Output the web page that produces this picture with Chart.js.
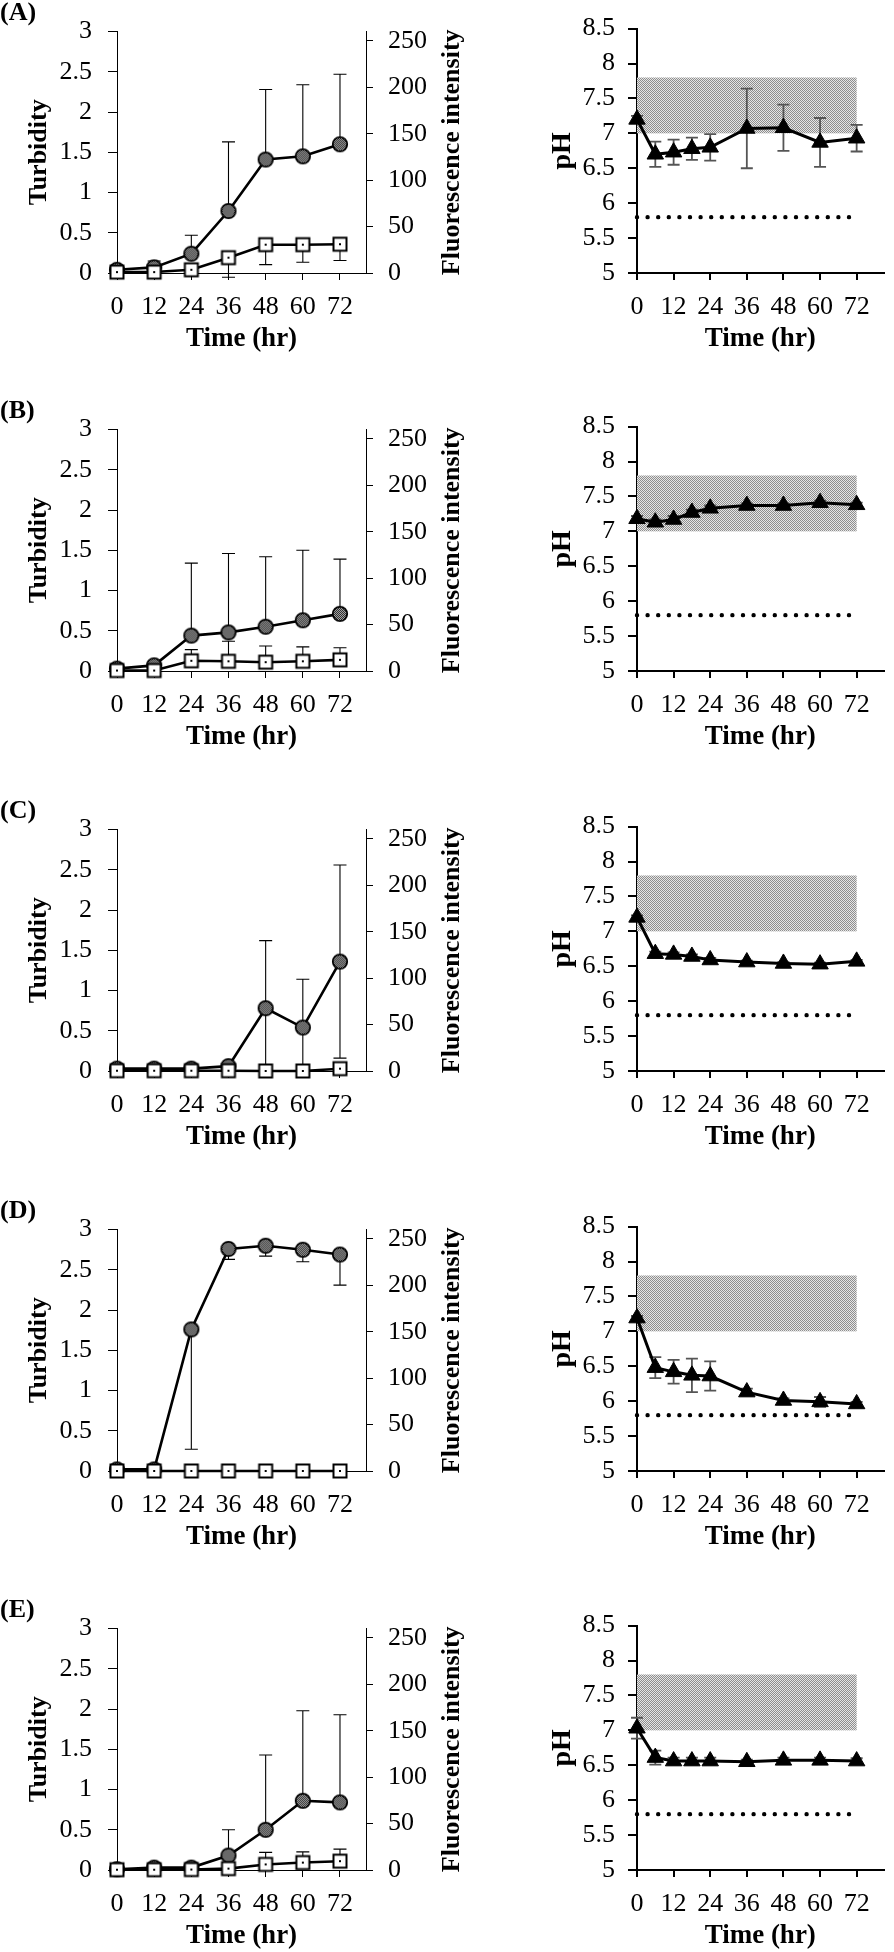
<!DOCTYPE html>
<html>
<head>
<meta charset="utf-8">
<script src="https://cdn.jsdelivr.net/npm/chart.js@4.4.0/dist/chart.umd.min.js"></script>
<style>
  body { margin: 0; background: #fff; width: 894px; height: 1952px; overflow: hidden; position: relative; }
  canvas { position: absolute; }
</style>
</head>
<body>
<script>
// time points
const hours = [0, 12, 24, 36, 48, 60, 72];
const phHours = [0, 6, 12, 18, 24, 36, 48, 60, 72];
const xTicks = [0, 12, 24, 36, 48, 60, 72];
const turbTicks = [0, 0.5, 1, 1.5, 2, 2.5, 3];
const fluoTicks = [0, 50, 100, 150, 200, 250];
const phTicks = [5, 5.5, 6, 6.5, 7, 7.5, 8, 8.5];

// (A)
const turbA = [0.04, 0.07, 0.24, 0.77, 1.41, 1.45, 1.60];
const turbA_up = [0.02, 0.08, 0.23, 0.86, 0.87, 0.89, 0.87];
const turbA_dn = [0, 0, 0, 0, 0, 0, 0];
const fluoA = [1, 1, 3.5, 16.5, 30.5, 30.5, 31];
const fluoA_up = [0, 0, 0, 0, 0, 0, 0];
const fluoA_dn = [0, 0, 0, 21, 21.5, 19, 17.5];
const phA = [7.20, 6.70, 6.73, 6.78, 6.80, 7.07, 7.08, 6.87, 6.93];
const phA_err = [0.05, 0.18, 0.18, 0.16, 0.19, 0.57, 0.33, 0.35, 0.19];

// (B)
const turbB = [0.03, 0.07, 0.44, 0.48, 0.55, 0.63, 0.71];
const turbB_up = [0.02, 0.05, 0.90, 0.98, 0.87, 0.87, 0.68];
const turbB_dn = [0, 0, 0, 0, 0, 0, 0];
const fluoB = [0.5, 0.5, 11, 10.5, 9.5, 10.5, 12];
const fluoB_up = [0, 0, 12, 21.5, 17.5, 15.5, 13];
const fluoB_dn = [0, 0, 0, 0, 0, 0, 0];
const phB = [7.18, 7.13, 7.17, 7.27, 7.33, 7.37, 7.37, 7.41, 7.38];
const phB_err = [0.04, 0.04, 0.05, 0.04, 0.04, 0.03, 0.03, 0.03, 0.03];

// (C)
const turbC = [0.03, 0.03, 0.03, 0.06, 0.78, 0.54, 1.36];
const turbC_up = [0, 0, 0, 0, 0.84, 0.60, 1.20];
const turbC_dn = [0, 0, 0, 0, 0.84, 0.60, 1.20];
const fluoC = [0.3, 0.3, 0.3, 0.3, 0, 0, 2.5];
const fluoC_up = [0, 0, 0, 0, 0, 0, 0];
const fluoC_dn = [0, 0, 0, 0, 0, 0, 0];
const phC = [7.20, 6.68, 6.67, 6.64, 6.59, 6.56, 6.54, 6.53, 6.57];
const phC_err = [0.03, 0.03, 0.03, 0.03, 0.03, 0.02, 0.02, 0.02, 0.02];

// (D)
const turbD = [0.02, 0.02, 1.76, 2.76, 2.80, 2.75, 2.69];
const turbD_up = [0, 0, 0, 0, 0, 0, 0];
const turbD_dn = [0, 0, 1.49, 0.13, 0.13, 0.15, 0.38];
const fluoD = [0, 0, 0, 0, 0, 0, 0];
const fluoD_up = [0, 0, 0, 0, 0, 0, 0];
const fluoD_dn = [0, 0, 0, 0, 0, 0, 0];
const phD = [7.19, 6.48, 6.42, 6.37, 6.36, 6.13, 6.01, 5.99, 5.96];
const phD_err = [0.03, 0.15, 0.17, 0.24, 0.21, 0.05, 0.03, 0.07, 0.03];

// (E)
const turbE = [0.01, 0.03, 0.03, 0.18, 0.50, 0.86, 0.84];
const turbE_up = [0, 0, 0, 0.32, 0.93, 1.12, 1.09];
const turbE_dn = [0, 0, 0, 0, 0, 0, 0];
const fluoE = [0.3, 0.3, 0.5, 1.5, 6, 8, 9.5];
const fluoE_up = [0, 0, 0, 0, 13, 11.5, 13];
const fluoE_dn = [0, 0, 0, 0, 0, 0, 0];
const phE = [7.03, 6.61, 6.56, 6.56, 6.56, 6.55, 6.57, 6.57, 6.56];
const phE_err = [0.15, 0.10, 0.05, 0.05, 0.05, 0.03, 0.04, 0.04, 0.04];

// reference band / line on the pH plots
const bandLow = 7.0, bandHigh = 7.8, bandEnd = 72;
const limitPH = 5.8, limitEnd = 71;

const rowTops = [0, 398, 798, 1198, 1597];
const serif = '"Liberation Serif", "Times New Roman", serif';
const tickFont = { family: serif, size: 26 };

function checker(c1, c2) {
  const p = document.createElement('canvas');
  p.width = 2; p.height = 2;
  const g = p.getContext('2d');
  g.fillStyle = c2; g.fillRect(0, 0, 2, 2);
  g.fillStyle = c1; g.fillRect(0, 0, 1, 1); g.fillRect(1, 1, 1, 1);
  return p;
}

// hatched circle marker
const circleImg = document.createElement('canvas');
circleImg.width = 18; circleImg.height = 18;
(function () {
  const g = circleImg.getContext('2d');
  g.fillStyle = g.createPattern(checker('#1e1e1e', '#b4b4b4'), 'repeat');
  g.beginPath(); g.arc(9, 9, 7.2, 0, Math.PI * 2); g.fill();
  g.lineWidth = 1.8; g.strokeStyle = '#000'; g.stroke();
})();

// open square marker with a dot
const squareImg = document.createElement('canvas');
squareImg.width = 18; squareImg.height = 18;
(function () {
  const g = squareImg.getContext('2d');
  g.fillStyle = '#fff'; g.fillRect(2.5, 2.5, 13, 13);
  g.lineWidth = 2; g.strokeStyle = '#000'; g.strokeRect(2.5, 2.5, 13, 13);
  g.fillStyle = '#000'; g.fillRect(8, 8, 2, 2);
})();

let bandPattern = null;

function extras(cfg) {
  return {
    id: 'extras',
    beforeDatasetsDraw(chart) {
      const ctx = chart.ctx;
      const xs = chart.scales.x;
      if (cfg.band) {
        const ys = chart.scales.y;
        if (!bandPattern) bandPattern = ctx.createPattern(checker('#8e8e8e', '#e6e6e6'), 'repeat');
        const l = xs.getPixelForValue(0), r = xs.getPixelForValue(bandEnd);
        const t = ys.getPixelForValue(bandHigh), b = ys.getPixelForValue(bandLow);
        ctx.save();
        ctx.fillStyle = bandPattern;
        ctx.fillRect(l, t, r - l, b - t);
        ctx.restore();
      }
      chart.data.datasets.forEach(ds => {
        if (!ds.errUp) return;
        const ys = chart.scales[ds.yAxisID];
        ctx.save();
        ctx.strokeStyle = ds.errColor;
        ctx.lineWidth = ds.errWidth;
        ds.data.forEach((p, i) => {
          const up = ds.errUp[i], dn = ds.errDn[i];
          if (!up && !dn) return;
          const px = xs.getPixelForValue(p.x);
          const top = ys.getPixelForValue(p.y + up);
          const bot = ys.getPixelForValue(p.y - dn);
          const hw = ds.capWidth / 2;
          ctx.beginPath();
          ctx.moveTo(px, top); ctx.lineTo(px, bot);
          if (up) { ctx.moveTo(px - hw, top); ctx.lineTo(px + hw, top); }
          if (dn) { ctx.moveTo(px - hw, bot); ctx.lineTo(px + hw, bot); }
          ctx.stroke();
        });
        ctx.restore();
      });
    },
    afterDraw(chart) {
      const ctx = chart.ctx;
      const area = chart.chartArea;
      ctx.save();
      ctx.fillStyle = '#000';
      if (cfg.label) {
        ctx.font = 'bold 26px ' + serif;
        ctx.textAlign = 'left';
        ctx.textBaseline = 'alphabetic';
        ctx.fillText(cfg.label, 0, 20);
      }
      if (cfg.sideTitle) {
        ctx.font = 'bold 26px ' + serif;
        ctx.textAlign = 'center';
        ctx.textBaseline = 'middle';
        ctx.translate(452, (area.top + area.bottom) / 2);
        ctx.rotate(-Math.PI / 2);
        ctx.fillText(cfg.sideTitle, 0, 0);
      }
      ctx.restore();
    }
  };
}

function makeCanvas(left, top, w, h) {
  const c = document.createElement('canvas');
  c.width = w; c.height = h;
  c.style.left = left + 'px'; c.style.top = top + 'px';
  c.style.width = w + 'px'; c.style.height = h + 'px';
  document.body.appendChild(c);
  return c;
}

function fixTicks(list) {
  return ax => { ax.ticks = list.map(v => ({ value: v })); };
}

function xScale(max, lw) {
  return {
    type: 'linear', position: 'bottom', min: 0, max: max,
    afterBuildTicks: fixTicks(xTicks),
    afterFit: ax => { ax.height = 87; },
    grid: { drawOnChartArea: false, tickLength: 7, color: '#000', lineWidth: lw },
    border: { color: '#000', width: lw },
    ticks: { font: tickFont, color: '#000', padding: 12, maxRotation: 0, autoSkip: false, callback: v => String(v) },
    title: { display: true, text: 'Time (hr)', color: '#000', font: { family: serif, size: 27, weight: 'bold' }, padding: { top: 0, bottom: 5 } }
  };
}

function leftChart(i, label, turb, turbUp, turbDn, fluo, fluoUp, fluoDn) {
  const c = makeCanvas(0, rowTops[i], 470, 360);
  new Chart(c, {
    type: 'line',
    data: {
      datasets: [
        {
          label: 'Fluorescence intensity', yAxisID: 'y1',
          data: hours.map((h, k) => ({ x: h, y: fluo[k] })),
          borderColor: '#000', borderWidth: 2.6, pointStyle: squareImg, pointRadius: 8,
          errUp: fluoUp, errDn: fluoDn, errColor: '#000', errWidth: 1.1, capWidth: 13,
          clip: false
        },
        {
          label: 'Turbidity', yAxisID: 'y',
          data: hours.map((h, k) => ({ x: h, y: turb[k] })),
          borderColor: '#000', borderWidth: 2.6, pointStyle: circleImg, pointRadius: 8,
          errUp: turbUp, errDn: turbDn, errColor: '#000', errWidth: 1.1, capWidth: 13,
          clip: false
        }
      ]
    },
    options: {
      responsive: false, animation: false, events: [],
      layout: { padding: { top: 10, left: 0, right: 0, bottom: 0 } },
      plugins: { legend: { display: false }, tooltip: { enabled: false } },
      scales: {
        x: xScale(80.4, 1),
        y: {
          position: 'left', min: 0, max: 3,
          afterBuildTicks: fixTicks(turbTicks),
          afterFit: ax => { ax.width = 117; },
          grid: { drawOnChartArea: false, tickLength: 9, color: '#000', lineWidth: 1 },
          border: { color: '#000', width: 1 },
          ticks: { font: tickFont, color: '#000', padding: 16, callback: v => String(v) },
          title: { display: true, text: 'Turbidity', color: '#000', font: { family: serif, size: 26, weight: 'bold' }, padding: { top: 24, bottom: 0 } }
        },
        y1: {
          position: 'right', min: 0, max: 260,
          afterBuildTicks: fixTicks(fluoTicks),
          afterFit: ax => { ax.width = 104; },
          grid: { drawOnChartArea: false, tickLength: 7, color: '#000', lineWidth: 1 },
          border: { color: '#000', width: 1 },
          ticks: { font: tickFont, color: '#000', padding: 15, callback: v => String(v) }
        }
      }
    },
    plugins: [extras({ label: label, sideTitle: 'Fluorescence intensity' })]
  });
}

function phChart(i, ph, err) {
  const c = makeCanvas(470, rowTops[i], 424, 360);
  new Chart(c, {
    type: 'line',
    data: {
      datasets: [
        {
          label: 'pH', yAxisID: 'y',
          data: phHours.map((h, k) => ({ x: h, y: ph[k] })),
          borderColor: '#000', borderWidth: 3,
          pointStyle: 'triangle', pointRadius: 9.5, pointBackgroundColor: '#000', pointBorderColor: '#000', pointBorderWidth: 1,
          errUp: err, errDn: err, errColor: '#555', errWidth: 1.8, capWidth: 12,
          clip: false
        },
        {
          label: 'limit', yAxisID: 'y',
          data: [{ x: 0, y: limitPH }, { x: limitEnd, y: limitPH }],
          borderColor: '#000', borderWidth: 4.4, borderDash: [0, 10.6], borderCapStyle: 'round',
          pointRadius: 0, clip: false
        }
      ]
    },
    options: {
      responsive: false, animation: false, events: [],
      layout: { padding: { top: 14, left: 0, right: 0, bottom: 0 } },
      plugins: { legend: { display: false }, tooltip: { enabled: false } },
      scales: {
        x: xScale(80.8, 2),
        y: {
          position: 'left', min: 5, max: 8.5,
          afterBuildTicks: fixTicks(phTicks),
          afterFit: ax => { ax.width = 167; },
          grid: { drawOnChartArea: false, tickLength: 9, color: '#000', lineWidth: 2 },
          border: { color: '#000', width: 2 },
          ticks: { font: tickFont, color: '#000', padding: 13, callback: v => String(v) },
          title: { display: true, text: 'pH', color: '#000', font: { family: serif, size: 28, weight: 'bold' }, padding: { top: 76, bottom: 0 } }
        }
      }
    },
    plugins: [extras({ band: true })]
  });
}

leftChart(0, '(A)', turbA, turbA_up, turbA_dn, fluoA, fluoA_up, fluoA_dn);
leftChart(1, '(B)', turbB, turbB_up, turbB_dn, fluoB, fluoB_up, fluoB_dn);
leftChart(2, '(C)', turbC, turbC_up, turbC_dn, fluoC, fluoC_up, fluoC_dn);
leftChart(3, '(D)', turbD, turbD_up, turbD_dn, fluoD, fluoD_up, fluoD_dn);
leftChart(4, '(E)', turbE, turbE_up, turbE_dn, fluoE, fluoE_up, fluoE_dn);

phChart(0, phA, phA_err);
phChart(1, phB, phB_err);
phChart(2, phC, phC_err);
phChart(3, phD, phD_err);
phChart(4, phE, phE_err);
</script>
</body>
</html>
